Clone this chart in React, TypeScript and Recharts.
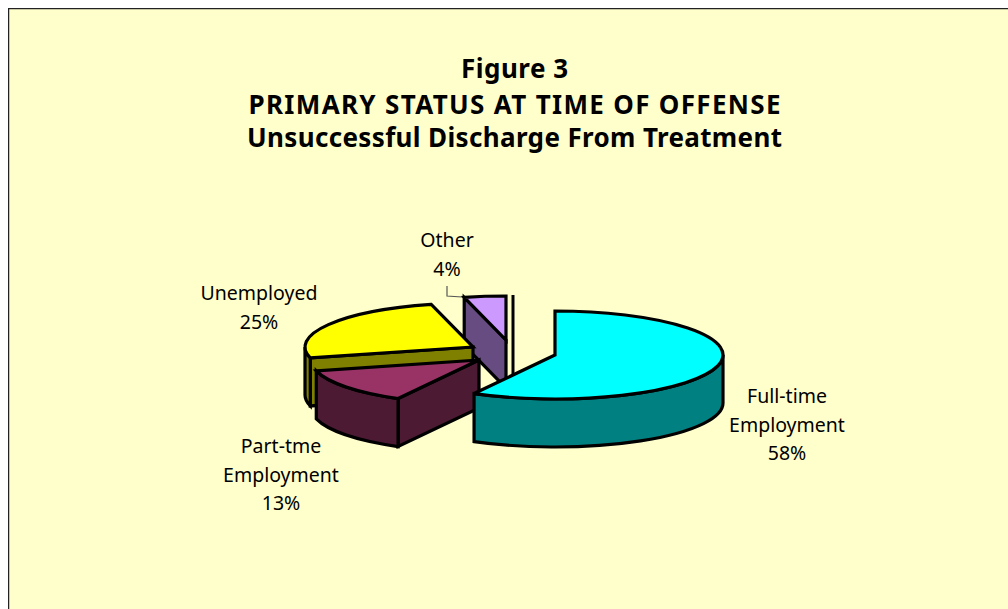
import React from 'react';
import { PieChart, Pie } from 'recharts';

const titleLines = ['Figure 3', 'PRIMARY STATUS AT TIME OF OFFENSE', 'Unsuccessful Discharge From Treatment'];
// Drawn back to front, so the list runs counter-clockwise from twelve o'clock.
const categories = ['Other', 'Unemployed', 'Part-tme Employment', 'Full-time Employment'];
const percents = [4, 25, 13, 58];

const FONT = '"Noto Sans", sans-serif';
const W = 1000;
const H = 601;
const CX = 512;
const CY = 342;
const RX = 168;
const RY = 44;
const DEPTH = 48;

const titleWidths = [107, 532, 535];
const titleBaselines = [70, 106, 139];

const sliceStyles: Record<string, any> = {
  Other: { top: '#CC99FF', side: '#664C80', dx: -14, dy: -10, label: [439, 239], bar: 7 },
  Unemployed: { top: '#FFFF00', side: '#808000', dx: -47, dy: -3, label: [251, 292] },
  'Part-tme Employment': { top: '#993366', side: '#4D1A33', dx: -41, dy: 10, label: [273, 445] },
  'Full-time Employment': { top: '#00FFFF', side: '#008080', dx: 35, dy: 5, label: [779, 395] },
};

const data = categories.map((name, i) => ({ name, value: percents[i] }));

const rad = (d: number) => (d * Math.PI) / 180;

function Slice3D(props: any) {
  const { cx, cy, startAngle, endAngle, name, payload } = props;
  const key = name ?? payload?.name;
  const s = sliceStyles[key];
  const ox = cx + s.dx;
  const oy = cy + s.dy;
  const lo = Math.min(startAngle, endAngle);
  const hi = Math.max(startAngle, endAngle);
  const px = (a: number) => ox + RX * Math.cos(rad(a));
  const py = (a: number) => oy - RY * Math.sin(rad(a));
  const common = { stroke: '#000', strokeWidth: 3.2, strokeLinejoin: 'miter' as const, strokeMiterlimit: 3 };

  // lo -> hi runs counter-clockwise on screen; hi is the clockwise start edge.
  const large = hi - lo > 180 ? 1 : 0;
  const topPath = `M${ox},${oy} L${px(hi)},${py(hi)} A${RX},${RY} 0 ${large} 1 ${px(lo)},${py(lo)} Z`;

  // The front rim is the part of the sweep in the lower half (180..360 degrees).
  const rimFrom = Math.max(lo, 180);
  const rimTo = Math.min(hi, 360);
  const rims: React.ReactNode[] = [];
  if (rimTo > rimFrom) {
    const big = rimTo - rimFrom > 180 ? 1 : 0;
    rims.push(
      <path
        key="rim"
        fill={s.side}
        {...common}
        d={`M${px(rimTo)},${py(rimTo)} A${RX},${RY} 0 ${big} 1 ${px(rimFrom)},${py(rimFrom)} L${px(rimFrom)},${py(rimFrom) + DEPTH} A${RX},${RY} 0 ${big} 0 ${px(rimTo)},${py(rimTo) + DEPTH} Z`}
      />,
    );
  }

  const face = (a: number) => (
    <path
      key={`face${a}`}
      fill={s.side}
      {...common}
      d={`M${ox},${oy} L${px(a)},${py(a)} L${px(a)},${py(a) + DEPTH} L${ox},${oy + DEPTH} Z`}
    />
  );
  const faces: React.ReactNode[] = [];
  if (Math.cos(rad(hi)) < -1e-6) faces.push(face(hi));
  if (Math.cos(rad(lo)) > 1e-6) faces.push(face(lo));

  return (
    <g>
      {s.bar ? (
        <line x1={ox + s.bar} y1={py(90) - 1} x2={ox + s.bar} y2={oy + DEPTH} stroke="#000" strokeWidth={3} />
      ) : null}
      {faces}
      {rims}
      <path d={topPath} fill={s.top} {...common} />
    </g>
  );
}

function SliceLabel(props: any) {
  const key = props.name ?? props.payload?.name;
  const s = sliceStyles[key];
  const lines = [...String(key).split(' '), `${props.value}%`];
  return (
    <g>
      <text x={s.label[0]} y={s.label[1]} textAnchor="middle" fontFamily={FONT} fontSize={19.5} fill="#000">
        {lines.map((t, i) => (
          <tspan key={i} x={s.label[0]} dy={i === 0 ? 0 : 28.5}>
            {t}
          </tspan>
        ))}
      </text>
      {key === 'Other' ? (
        <polyline points="439,278 439,288 454,289" fill="none" stroke="#555" strokeWidth={1.2} />
      ) : null}
    </g>
  );
}

export default function App() {
  return (
    <div style={{ position: 'absolute', left: 8, top: 8, width: W, height: H, background: '#FFFFCC' }}>
      <PieChart width={W} height={H} margin={{ top: 0, right: 0, bottom: 0, left: 0 }}>
        <line x1={0.5} y1={0} x2={0.5} y2={H} stroke="#222" strokeWidth={1.5} />
        <line x1={0} y1={0.5} x2={W} y2={0.5} stroke="#222" strokeWidth={1.5} />
        {titleLines.map((t, i) => (
          <text
            key={t}
            x={506.5}
            y={titleBaselines[i]}
            textAnchor="middle"
            textLength={titleWidths[i]}
            lengthAdjust="spacing"
            fontFamily={FONT}
            fontWeight={700}
            fontSize={26}
            fill="#000"
          >
            {t}
          </text>
        ))}
        <Pie
          data={data}
          dataKey="value"
          nameKey="name"
          cx={CX}
          cy={CY}
          outerRadius={RX}
          startAngle={90}
          endAngle={450}
          isAnimationActive={false}
          shape={Slice3D}
          label={SliceLabel}
          labelLine={false}
        />
      </PieChart>
    </div>
  );
}
